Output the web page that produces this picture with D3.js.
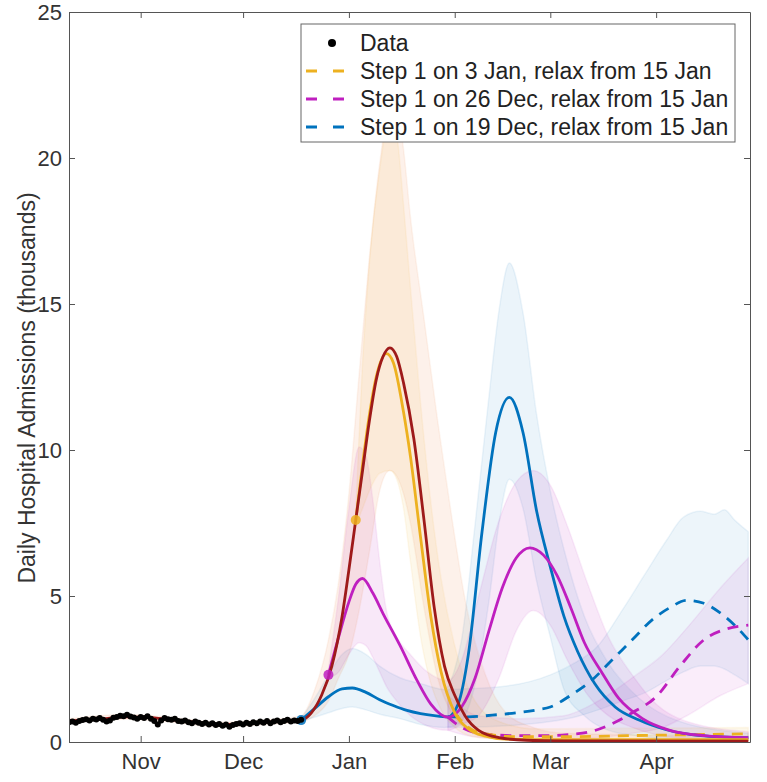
<!DOCTYPE html>
<html>
<head>
<meta charset="utf-8">
<script src="https://cdn.jsdelivr.net/npm/d3@7"></script>
<style>
  body { margin: 0; background: #fff; }
  svg { display: block; font-family: "Liberation Sans", Arial, sans-serif; }
</style>
</head>
<body>
<div id="chart"></div>
<script>
// observed admissions (thousands), daily from 11 Oct
const dataStart = "2021-10-11";
const dataVals = [
  0.68, 0.70, 0.66, 0.72, 0.75, 0.78, 0.74,
  0.80, 0.77, 0.82, 0.76, 0.70, 0.74, 0.83,
  0.86, 0.90, 0.88, 0.93, 0.87, 0.84, 0.80,
  0.86, 0.82, 0.88, 0.80, 0.72, 0.60, 0.74,
  0.82, 0.78, 0.76, 0.80, 0.72, 0.70, 0.74,
  0.68, 0.64, 0.70, 0.66, 0.62, 0.66, 0.60,
  0.64, 0.58, 0.62, 0.56, 0.60, 0.52, 0.58,
  0.62, 0.64, 0.60, 0.66, 0.62, 0.68, 0.64,
  0.70, 0.66, 0.72, 0.64, 0.70, 0.74, 0.68,
  0.72, 0.76, 0.70, 0.74, 0.72, 0.76
];

// model fit + no further measures (dark red)
const redLine = [
  ["2021-10-11", 0.72], ["2021-10-20", 0.78], ["2021-10-28", 0.86], ["2021-11-03", 0.84],
  ["2021-11-10", 0.76], ["2021-11-17", 0.68], ["2021-11-24", 0.60], ["2021-12-01", 0.62],
  ["2021-12-08", 0.68], ["2021-12-14", 0.72], ["2021-12-18", 0.75], ["2021-12-21", 1.0],
  ["2021-12-24", 1.6], ["2021-12-27", 2.6], ["2021-12-30", 4.3], ["2022-01-01", 5.9],
  ["2022-01-03", 7.6], ["2022-01-05", 9.3], ["2022-01-07", 11.0], ["2022-01-09", 12.4],
  ["2022-01-11", 13.2], ["2022-01-13", 13.5], ["2022-01-15", 13.2], ["2022-01-17", 12.3],
  ["2022-01-20", 10.4], ["2022-01-23", 7.6], ["2022-01-26", 4.6], ["2022-01-29", 2.6],
  ["2022-02-01", 1.6], ["2022-02-04", 0.9], ["2022-02-08", 0.4], ["2022-02-14", 0.15],
  ["2022-02-22", 0.06], ["2022-03-05", 0.04], ["2022-04-28", 0.03]
];
const redBand = [
  ["2021-10-11", 0.64, 0.80], ["2021-10-28", 0.78, 0.94], ["2021-11-10", 0.68, 0.84],
  ["2021-11-24", 0.52, 0.68], ["2021-12-08", 0.60, 0.76], ["2021-12-18", 0.70, 0.90],
  ["2021-12-22", 0.9, 1.8], ["2021-12-26", 1.4, 3.5], ["2021-12-29", 2.2, 5.5],
  ["2022-01-01", 3.0, 8.5], ["2022-01-04", 4.5, 12.6], ["2022-01-07", 6.5, 16.6],
  ["2022-01-10", 8.6, 19.8], ["2022-01-13", 9.3, 21.8], ["2022-01-15", 9.1, 21.8],
  ["2022-01-17", 8.5, 20.3], ["2022-01-19", 7.5, 18.0], ["2022-01-23", 4.6, 14.5],
  ["2022-01-27", 2.2, 11.0], ["2022-01-31", 1.0, 7.8], ["2022-02-04", 0.45, 4.9],
  ["2022-02-10", 0.15, 2.3], ["2022-02-16", 0.08, 1.0], ["2022-02-24", 0.04, 0.5],
  ["2022-03-05", 0.02, 0.3], ["2022-04-28", 0.02, 0.2]
];

// step 1 on 3 Jan (yellow)
const yellowLine = [
  ["2022-01-03", 7.6], ["2022-01-05", 9.5], ["2022-01-07", 11.2], ["2022-01-09", 12.5],
  ["2022-01-12", 13.3], ["2022-01-14", 13.0], ["2022-01-17", 11.3], ["2022-01-19", 9.8],
  ["2022-01-22", 7.0], ["2022-01-25", 4.3], ["2022-01-28", 2.4], ["2022-02-01", 1.0],
  ["2022-02-05", 0.45], ["2022-02-10", 0.2], ["2022-02-16", 0.1], ["2022-03-01", 0.08],
  ["2022-04-28", 0.08]
];
const yellowDash = [
  ["2022-02-01", 1.0], ["2022-02-05", 0.5], ["2022-02-10", 0.28], ["2022-02-20", 0.18],
  ["2022-03-05", 0.18], ["2022-03-25", 0.22], ["2022-04-28", 0.28]
];
const yellowBand = [
  ["2022-01-03", 7.4, 7.9], ["2022-01-05", 8.0, 13.0], ["2022-01-07", 8.6, 16.4],
  ["2022-01-10", 9.2, 19.6], ["2022-01-13", 9.3, 21.4], ["2022-01-15", 9.0, 20.8],
  ["2022-01-17", 8.0, 18.4], ["2022-01-19", 6.2, 15.6], ["2022-01-22", 3.6, 11.6],
  ["2022-01-25", 2.0, 8.2], ["2022-01-28", 1.1, 5.6], ["2022-02-01", 0.5, 3.3],
  ["2022-02-06", 0.2, 1.6], ["2022-02-14", 0.1, 0.7], ["2022-02-25", 0.08, 0.45],
  ["2022-04-28", 0.08, 0.5]
];

// step 1 on 26 Dec (magenta)
const magentaLine = [
  ["2021-12-26", 2.3], ["2021-12-29", 3.6], ["2022-01-01", 4.8], ["2022-01-03", 5.4],
  ["2022-01-05", 5.6], ["2022-01-08", 5.1], ["2022-01-11", 4.4], ["2022-01-16", 3.3],
  ["2022-01-21", 2.1], ["2022-01-25", 1.3], ["2022-01-30", 0.85], ["2022-02-03", 1.2],
  ["2022-02-07", 2.2], ["2022-02-11", 3.8], ["2022-02-15", 5.3], ["2022-02-19", 6.3],
  ["2022-02-23", 6.65], ["2022-02-27", 6.4], ["2022-03-03", 5.7], ["2022-03-07", 4.6],
  ["2022-03-11", 3.4], ["2022-03-16", 2.4], ["2022-03-21", 1.5], ["2022-03-28", 0.8],
  ["2022-04-05", 0.4], ["2022-04-15", 0.22], ["2022-04-28", 0.15]
];
const magentaDash = [
  ["2022-01-30", 0.85], ["2022-02-03", 0.5], ["2022-02-08", 0.3], ["2022-02-18", 0.22],
  ["2022-03-01", 0.22], ["2022-03-07", 0.26], ["2022-03-13", 0.36], ["2022-03-19", 0.62],
  ["2022-03-25", 1.0], ["2022-04-01", 1.55], ["2022-04-08", 2.6], ["2022-04-15", 3.5],
  ["2022-04-21", 3.85], ["2022-04-28", 4.0]
];
const magentaBand = [
  ["2021-12-26", 2.2, 2.5], ["2021-12-29", 2.4, 5.0], ["2022-01-01", 3.0, 8.0],
  ["2022-01-04", 3.4, 10.1], ["2022-01-06", 3.3, 9.8], ["2022-01-08", 2.9, 8.3],
  ["2022-01-10", 2.4, 6.2], ["2022-01-12", 1.9, 4.5], ["2022-01-15", 1.4, 3.6],
  ["2022-01-19", 0.9, 3.0], ["2022-01-24", 0.55, 2.4], ["2022-01-30", 0.4, 2.1],
  ["2022-02-03", 0.6, 2.8], ["2022-02-08", 0.9, 5.0],
  ["2022-02-14", 2.2, 7.6], ["2022-02-19", 3.8, 8.9], ["2022-02-24", 4.5, 9.3],
  ["2022-03-01", 4.0, 8.8], ["2022-03-06", 2.8, 7.4], ["2022-03-12", 1.6, 5.4],
  ["2022-03-18", 0.9, 3.6], ["2022-03-25", 0.5, 2.3], ["2022-04-01", 0.25, 1.3],
  ["2022-04-10", 0.12, 0.7], ["2022-04-28", 0.08, 0.35]
];
const magentaDashBand = [
  ["2022-01-30", 0.4, 1.6], ["2022-02-08", 0.15, 0.9], ["2022-02-20", 0.1, 0.8],
  ["2022-03-05", 0.1, 0.9], ["2022-03-15", 0.15, 1.4], ["2022-03-25", 0.3, 2.2],
  ["2022-04-03", 0.5, 3.0], ["2022-04-10", 0.9, 3.9], ["2022-04-20", 1.6, 5.3],
  ["2022-04-28", 2.0, 6.3]
];

// step 1 on 19 Dec (blue)
const blueLine = [
  ["2021-12-18", 0.75], ["2021-12-22", 1.15], ["2021-12-26", 1.55], ["2021-12-30", 1.82],
  ["2022-01-02", 1.85], ["2022-01-06", 1.7], ["2022-01-10", 1.45], ["2022-01-14", 1.25],
  ["2022-01-18", 1.08], ["2022-01-22", 0.97], ["2022-01-26", 0.9], ["2022-01-30", 0.86],
  ["2022-02-02", 1.3], ["2022-02-05", 3.0], ["2022-02-09", 7.2], ["2022-02-13", 10.6],
  ["2022-02-17", 11.8], ["2022-02-21", 10.6], ["2022-02-25", 7.9], ["2022-03-01", 6.0],
  ["2022-03-05", 4.3], ["2022-03-09", 3.1], ["2022-03-14", 2.0], ["2022-03-20", 1.2],
  ["2022-03-27", 0.75], ["2022-04-04", 0.42], ["2022-04-14", 0.22], ["2022-04-28", 0.15]
];
const blueDash = [
  ["2022-01-30", 0.86], ["2022-02-05", 0.86], ["2022-02-12", 0.92], ["2022-02-19", 1.0],
  ["2022-02-25", 1.1], ["2022-03-01", 1.2], ["2022-03-07", 1.6], ["2022-03-13", 2.1],
  ["2022-03-19", 2.8], ["2022-03-25", 3.5], ["2022-03-31", 4.2], ["2022-04-05", 4.6],
  ["2022-04-10", 4.85], ["2022-04-15", 4.75], ["2022-04-20", 4.4], ["2022-04-24", 4.0],
  ["2022-04-28", 3.5]
];
const blueBand = [
  ["2021-12-18", 0.7, 0.8], ["2021-12-22", 0.85, 1.5], ["2021-12-26", 1.0, 2.3],
  ["2021-12-30", 1.15, 3.0], ["2022-01-02", 1.2, 3.2], ["2022-01-06", 1.1, 3.0],
  ["2022-01-10", 0.95, 2.6], ["2022-01-16", 0.8, 2.2], ["2022-01-22", 0.6, 2.0],
  ["2022-01-29", 0.5, 1.8], ["2022-02-01", 0.55, 2.5], ["2022-02-03", 0.7, 3.5],
  ["2022-02-07", 2.0, 7.5], ["2022-02-11", 4.8, 11.8], ["2022-02-14", 7.5, 14.8],
  ["2022-02-17", 9.0, 16.4], ["2022-02-21", 8.0, 14.7], ["2022-02-25", 5.5, 11.2],
  ["2022-03-01", 3.6, 8.6], ["2022-03-05", 1.8, 6.6], ["2022-03-11", 0.9, 4.3],
  ["2022-03-18", 0.4, 2.7], ["2022-03-27", 0.2, 1.5], ["2022-04-08", 0.1, 0.7],
  ["2022-04-28", 0.05, 0.3]
];
const blueDashBand = [
  ["2022-01-30", 0.5, 1.8], ["2022-02-15", 0.55, 1.9], ["2022-03-01", 0.7, 2.3],
  ["2022-03-08", 0.85, 2.7], ["2022-03-15", 1.1, 3.3], ["2022-03-22", 1.4, 4.5],
  ["2022-03-29", 1.7, 5.8], ["2022-04-04", 2.1, 6.9], ["2022-04-09", 2.4, 7.7],
  ["2022-04-14", 2.6, 7.9], ["2022-04-18", 2.6, 7.8], ["2022-04-21", 2.5, 7.95],
  ["2022-04-24", 2.3, 7.6], ["2022-04-28", 2.0, 7.2]
];

// start-of-step markers
const markers = [
  ["2021-12-18", 0.75, "#0072BD"],
  ["2021-12-26", 2.3, "#BF1FBF"],
  ["2022-01-03", 7.6, "#EDB120"]
];

const legendItems = [
  ["Data", "#000", "dot"],
  ["Step 1 on 3 Jan, relax from 15 Jan", "#EDB120", "dash"],
  ["Step 1 on 26 Dec, relax from 15 Jan", "#BF1FBF", "dash"],
  ["Step 1 on 19 Dec, relax from 15 Jan", "#0072BD", "dash"]
];
const monthTicks = ["2021-11-01", "2021-12-01", "2022-01-01", "2022-02-01", "2022-03-01", "2022-04-01"];
const yTicks = [0, 5, 10, 15, 20, 25];

const width = 767, height = 782;
const margin = {top: 12, right: 17, bottom: 40, left: 69};
const parse = d3.timeParse("%Y-%m-%d");

const svg = d3.select("#chart").append("svg")
  .attr("width", width)
  .attr("height", height);

const x = d3.scaleTime()
  .domain([parse("2021-10-11"), new Date(2022, 3, 28, 12)])
  .range([margin.left, width - margin.right]);
const y = d3.scaleLinear()
  .domain([0, 25])
  .range([height - margin.bottom, margin.top]);

svg.append("defs").append("clipPath").attr("id", "clip")
  .append("rect")
  .attr("x", margin.left).attr("y", margin.top)
  .attr("width", width - margin.left - margin.right)
  .attr("height", height - margin.top - margin.bottom);

const plot = svg.append("g").attr("clip-path", "url(#clip)");

const area = d3.area()
  .x(d => x(parse(d[0])))
  .y0(d => y(d[1]))
  .y1(d => y(d[2]))
  .curve(d3.curveMonotoneX);
const line = d3.line()
  .x(d => x(parse(d[0])))
  .y(d => y(d[1]))
  .curve(d3.curveMonotoneX);

// shaded ranges
const bands = [
  [blueDashBand, "#0072BD", 0.07],
  [blueBand, "#0072BD", 0.08],
  [magentaDashBand, "#BF1FBF", 0.08],
  [magentaBand, "#BF1FBF", 0.1],
  [yellowBand, "#EDB120", 0.09],
  [redBand, "#E8742E", 0.1]
];
bands.forEach(b => {
  plot.append("path")
    .datum(b[0])
    .attr("d", area)
    .attr("fill", b[1])
    .attr("fill-opacity", b[2])
    .attr("stroke", b[1])
    .attr("stroke-opacity", 0.07)
    .attr("stroke-width", 1.5);
});

// scenario lines
const lines = [
  [blueDash, "#0072BD", true],
  [magentaDash, "#BF1FBF", true],
  [yellowDash, "#EDB120", true],
  [blueLine, "#0072BD", false],
  [magentaLine, "#BF1FBF", false],
  [yellowLine, "#EDB120", false],
  [redLine, "#9E1A1A", false]
];
lines.forEach(l => {
  plot.append("path")
    .datum(l[0])
    .attr("d", line)
    .attr("fill", "none")
    .attr("stroke", l[1])
    .attr("stroke-width", 2.8)
    .attr("stroke-dasharray", l[2] ? "11,8" : null);
});

plot.selectAll(".marker")
  .data(markers)
  .join("circle")
    .attr("class", "marker")
    .attr("cx", d => x(parse(d[0])))
    .attr("cy", d => y(d[1]))
    .attr("r", 5)
    .attr("fill", d => d[2])
    .attr("fill-opacity", 0.85);

// data points
const t0 = parse(dataStart);
plot.append("path")
  .datum(dataVals)
  .attr("d", d3.line().x((d, i) => x(d3.timeDay.offset(t0, i))).y(d => y(d)))
  .attr("fill", "none")
  .attr("stroke", "#000")
  .attr("stroke-width", 3);
plot.selectAll(".obs")
  .data(dataVals)
  .join("circle")
    .attr("class", "obs")
    .attr("cx", (d, i) => x(d3.timeDay.offset(t0, i)))
    .attr("cy", d => y(d))
    .attr("r", 3)
    .attr("fill", "#000");

// axes, MATLAB style box with inward ticks
const axisColor = "#555";
const tickFont = g => g.selectAll("text")
  .attr("fill", "#333")
  .style("font-size", "22px");

svg.append("g")
  .attr("transform", `translate(0,${height - margin.bottom})`)
  .call(d3.axisBottom(x).tickValues(monthTicks.map(parse)).tickFormat(d3.timeFormat("%b"))
    .tickSizeInner(-6).tickSizeOuter(0).tickPadding(11))
  .call(tickFont);
svg.append("g")
  .attr("transform", `translate(0,${margin.top})`)
  .call(d3.axisTop(x).tickValues(monthTicks.map(parse)).tickFormat("")
    .tickSizeInner(-6).tickSizeOuter(0));
svg.append("g")
  .attr("transform", `translate(${margin.left},0)`)
  .call(d3.axisLeft(y).tickValues(yTicks).tickSizeInner(-6).tickSizeOuter(0).tickPadding(7))
  .call(tickFont);
svg.append("g")
  .attr("transform", `translate(${width - margin.right},0)`)
  .call(d3.axisRight(y).tickValues(yTicks).tickFormat("").tickSizeInner(-6).tickSizeOuter(0));
svg.selectAll(".domain, .tick line").attr("stroke", axisColor);

svg.append("text")
  .attr("transform", "translate(27,388) rotate(-90)")
  .attr("text-anchor", "middle")
  .attr("dy", "0.35em")
  .attr("fill", "#333")
  .style("font-size", "23px")
  .text("Daily Hospital Admissions (thousands)");

// legend
const legend = svg.append("g");
legend.append("rect")
  .attr("x", 301).attr("y", 24)
  .attr("width", 434).attr("height", 118)
  .attr("fill", "#fff")
  .attr("stroke", "#666")
  .attr("stroke-width", 1);
const rows = legend.selectAll(".row")
  .data(legendItems)
  .join("g")
    .attr("transform", (d, i) => `translate(0,${43 + i * 28})`);
rows.filter(d => d[2] === "dot").append("circle")
  .attr("cx", 332).attr("cy", 0).attr("r", 4).attr("fill", "#000");
rows.filter(d => d[2] === "dash").append("line")
  .attr("x1", 306).attr("x2", 346)
  .attr("stroke", d => d[1])
  .attr("stroke-width", 2.8)
  .attr("stroke-dasharray", "11,16");
rows.append("text")
  .attr("x", 360)
  .attr("dy", "0.35em")
  .attr("fill", "#222")
  .style("font-size", "23px")
  .text(d => d[0]);
</script>
</body>
</html>
